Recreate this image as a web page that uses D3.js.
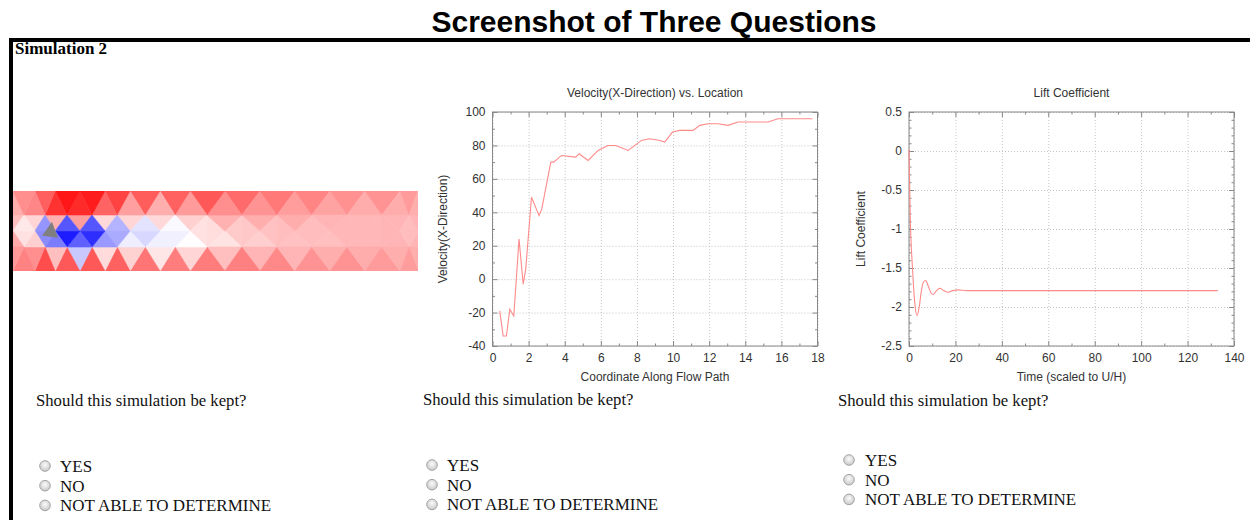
<!DOCTYPE html>
<html>
<head>
<meta charset="utf-8">
<script src="https://cdn.jsdelivr.net/npm/d3@7"></script>
<style>
  body { margin: 0; background: #fff; }
  svg { display: block; }
  .plot text { font-family: "Liberation Sans", Arial, sans-serif; fill: #333; }
  .serif { font-family: "Liberation Serif", "Times New Roman", serif; fill: #111; }
</style>
</head>
<body>
<div id="page"></div>
<script>
const pageTitle = "Screenshot of Three Questions"
const simName = "Simulation 2"
const question = "Should this simulation be kept?"
const answers = ["YES", "NO", "NOT ABLE TO DETERMINE"]

// velocity field snapshot: mesh rows (channel units), value -1 blue .. 0 white .. 1 red
const colsA = [0, 0.54, 1.04, 1.65, 2.27, 2.89, 3.63, 4.37, 5.23, 6.1, 6.96, 7.83, 8.69, 9.56, 10]
const colsB = [0, 0.27, 0.79, 1.33, 1.95, 2.57, 3.26, 4.0, 4.79, 5.65, 6.52, 7.38, 8.25, 9.11, 9.78, 10]
const meshRowY = [0, 0.6, 1.0, 1.4, 2]
const meshRowCols = [colsA, colsB, colsA, colsB, colsA]
const meshVal = [
  [0.45, 0.6, 0.9, 1.0, 0.95, 0.8, 0.7, 0.75, 0.7, 0.6, 0.55, 0.5, 0.45, 0.45, 0.4],
  [0.3, 0.25, 0.5, 0.85, 0.6, 0.3, 0.25, 0.2, 0.35, 0.4, 0.35, 0.35, 0.3, 0.3, 0.3, 0.3],
  [0.2, -0.5, -1.0, -0.95, -0.9, -0.3, -0.15, -0.05, 0.05, 0.1, 0.2, 0.2, 0.2, 0.25, 0.25],
  [0.35, 0.4, 0.3, -0.6, -0.4, 0.1, -0.05, 0.0, 0.1, 0.2, 0.25, 0.25, 0.3, 0.3, 0.3, 0.3],
  [0.45, 0.75, 0.9, 0.9, 0.85, 0.7, 0.65, 0.6, 0.6, 0.55, 0.5, 0.45, 0.45, 0.4, 0.4]
]
const obstacle = [[0.72, 1.12], [0.96, 0.77], [1.11, 1.17]]

// Velocity(X-Direction) vs. Location
const velPos = [0.40, 0.59, 0.77, 0.96, 1.18, 1.47, 1.70, 1.84, 2.16, 2.58, 2.73, 3.23, 3.39, 3.82, 4.61, 4.80, 5.29, 5.85, 6.40, 6.83, 7.51, 8.25, 8.71, 9.27, 9.54, 9.97, 10.37, 11.11, 11.48, 11.94, 12.49, 13.05, 13.60, 14.62, 15.26, 15.81, 16.28, 16.83, 17.20, 17.72]
const velVal = [-19, -34, -34, -18, -22, 24, -3, 6, 49, 38, 42, 70, 70, 74, 73, 75, 71, 77, 80, 80, 77, 83, 84, 83, 82, 88, 89, 89, 92, 93, 93, 92, 94, 94, 94, 96, 96, 96, 96, 96]
const velXTicks = [0, 2, 4, 6, 8, 10, 12, 14, 16, 18]
const velXMinor = [1, 3, 5, 7, 9, 11, 13, 15, 17]
const velYTicks = [-40, -20, 0, 20, 40, 60, 80, 100]
const velYMinor = [-30, -10, 10, 30, 50, 70, 90]

// Lift Coefficient
const liftT = [0, 0.5, 1.5, 2.5, 3.5, 4.4, 5.3, 6.2, 7.2, 8.4, 9.5, 10.4, 11.6, 13.3, 15.0, 16.9, 19.0, 21.0, 25, 133]
const liftC = [0.02, -0.8, -1.5, -1.95, -2.11, -2.0, -1.8, -1.68, -1.66, -1.74, -1.82, -1.84, -1.80, -1.76, -1.79, -1.81, -1.79, -1.78, -1.79, -1.79]
const liftXTicks = [0, 20, 40, 60, 80, 100, 120, 140]
const liftXMinor = [10, 30, 50, 70, 90, 110, 130]
const liftYTicks = [-2.5, -2, -1.5, -1, -0.5, 0, 0.5]
const liftYMinor = [-2.4, -2.3, -2.2, -2.1, -1.9, -1.8, -1.7, -1.6, -1.4, -1.3, -1.2, -1.1, -0.9, -0.8, -0.7, -0.6, -0.4, -0.3, -0.2, -0.1, 0.1, 0.2, 0.3, 0.4]

const svg = d3.select("#page").append("svg")
  .attr("width", 1250)
  .attr("height", 520)

svg.append("text")
  .attr("x", 654).attr("y", 32)
  .attr("text-anchor", "middle")
  .style("font", "bold 30px 'Liberation Sans', Arial, sans-serif")
  .text(pageTitle)

// frame of the question block
svg.append("rect").attr("x", 9).attr("y", 38).attr("width", 1241).attr("height", 4).attr("fill", "#000")
svg.append("rect").attr("x", 9).attr("y", 38).attr("width", 4).attr("height", 482).attr("fill", "#000")

svg.append("text")
  .attr("class", "serif")
  .attr("x", 15).attr("y", 54)
  .style("font-weight", "bold").style("font-size", "17px")
  .style("fill", "#000")
  .text(simName)

// --- velocity field mesh
const mx = d3.scaleLinear().domain([0, 10]).range([13, 418])
const my = d3.scaleLinear().domain([0, 2]).range([191, 271])
const fieldColor = d3.scaleLinear().domain([-1, 0, 1]).range(["#0000ff", "#ffffff", "#ff0000"])

const nodes = meshRowCols.flatMap((cols, r) => cols.map((c, i) => ({
  px: mx(c), py: my(meshRowY[r]), v: meshVal[r][i]
})))
const delaunay = d3.Delaunay.from(nodes, d => d.px, d => d.py)
const tris = d3.range(delaunay.triangles.length / 3).map(i =>
  [0, 1, 2].map(k => nodes[delaunay.triangles[i * 3 + k]]))
const triColor = t => fieldColor((d3.median(t, n => n.v) + d3.mean(t, n => n.v)) / 2)

const defs = svg.append("defs")
defs.append("filter").attr("id", "soft")
  .append("feGaussianBlur").attr("stdDeviation", 0.7)
defs.append("clipPath").attr("id", "strip")
  .append("rect").attr("x", 13).attr("y", 191).attr("width", 405).attr("height", 80)

const field = svg.append("g").attr("clip-path", "url(#strip)")
  .append("g").attr("filter", "url(#soft)")
field.selectAll("path")
  .data(tris)
  .join("path")
    .attr("d", t => "M" + t.map(n => `${n.px},${n.py}`).join("L") + "Z")
    .attr("fill", triColor)
    .attr("stroke", triColor)
    .attr("stroke-width", 0.6)
field.append("path")
  .attr("d", "M" + obstacle.map(p => [mx(p[0]), my(p[1])].join(",")).join("L") + "Z")
  .attr("fill", "#808080")

// --- gnuplot-style line charts
const plotTop = 112, plotBottom = 346, plotW = 325

function drawPlot(cfg) {
  const g = svg.append("g").attr("class", "plot")
  const x = d3.scaleLinear().domain(cfg.xDomain).range([cfg.left, cfg.left + plotW])
  const y = d3.scaleLinear().domain(cfg.yDomain).range([plotBottom, plotTop])
  const fmt = d => `${d}`
  const strip = s => s.select(".domain").remove()

  // grid
  g.append("g").attr("transform", `translate(0,${plotBottom})`)
    .call(d3.axisBottom(x).tickValues(cfg.xTicks).tickSize(-(plotBottom - plotTop)).tickFormat(""))
    .call(strip)
    .selectAll("line").attr("stroke", "#c4c4c4").attr("stroke-dasharray", "1,2")
  g.append("g").attr("transform", `translate(${cfg.left},0)`)
    .call(d3.axisLeft(y).tickValues(cfg.yTicks).tickSize(-plotW).tickFormat(""))
    .call(strip)
    .selectAll("line").attr("stroke", "#c4c4c4").attr("stroke-dasharray", "1,2")

  // inward ticks on all four sides
  const sides = [
    [d3.axisBottom(x), cfg.xTicks, cfg.xMinor, `translate(0,${plotBottom})`, true],
    [d3.axisTop(x), cfg.xTicks, cfg.xMinor, `translate(0,${plotTop})`, false],
    [d3.axisLeft(y), cfg.yTicks, cfg.yMinor, `translate(${cfg.left},0)`, true],
    [d3.axisRight(y), cfg.yTicks, cfg.yMinor, `translate(${cfg.left + plotW},0)`, false]
  ]
  sides.forEach(([ax, major, minor, tr, labels]) => {
    g.append("g").attr("transform", tr)
      .call(ax.tickValues(minor).tickSize(-2.5).tickFormat(""))
      .call(strip)
      .selectAll("line").attr("stroke", "#888")
    g.append("g").attr("transform", tr)
      .call(ax.tickValues(major).tickSize(-5).tickPadding(7).tickFormat(labels ? fmt : ""))
      .call(strip)
      .call(s => s.selectAll("line").attr("stroke", "#888"))
      .call(s => s.selectAll("text").attr("fill", "#333").style("font-size", "12px"))
  })

  g.append("rect")
    .attr("x", cfg.left).attr("y", plotTop)
    .attr("width", plotW).attr("height", plotBottom - plotTop)
    .attr("fill", "none").attr("stroke", "#888")

  g.append("path")
    .datum(d3.zip(cfg.xs, cfg.ys))
    .attr("fill", "none")
    .attr("stroke", "#ff8a8a")
    .attr("stroke-width", 1.1)
    .attr("d", d3.line().x(d => x(d[0])).y(d => y(d[1])).curve(cfg.curve))

  const cx = cfg.left + plotW / 2
  g.append("text").attr("x", cx).attr("y", 97).attr("text-anchor", "middle")
    .style("font-size", "12px").text(cfg.title)
  g.append("text").attr("x", cx).attr("y", 381).attr("text-anchor", "middle")
    .style("font-size", "12px").text(cfg.xLabel)
  g.append("text")
    .attr("transform", `translate(${cfg.yLabelX},${(plotTop + plotBottom) / 2}) rotate(-90)`)
    .attr("text-anchor", "middle").attr("dy", "0.35em")
    .style("font-size", "12px").text(cfg.yLabel)
}

drawPlot({
  left: 492.5, xDomain: [0, 18], yDomain: [-40, 100],
  xTicks: velXTicks, xMinor: velXMinor, yTicks: velYTicks, yMinor: velYMinor,
  xs: velPos, ys: velVal, curve: d3.curveLinear,
  title: "Velocity(X-Direction) vs. Location",
  xLabel: "Coordinate Along Flow Path",
  yLabel: "Velocity(X-Direction)", yLabelX: 443
})

drawPlot({
  left: 909, xDomain: [0, 140], yDomain: [-2.5, 0.5],
  xTicks: liftXTicks, xMinor: liftXMinor, yTicks: liftYTicks, yMinor: liftYMinor,
  xs: liftT, ys: liftC, curve: d3.curveMonotoneX,
  title: "Lift Coefficient",
  xLabel: "Time (scaled to U/H)",
  yLabel: "Lift Coefficient", yLabelX: 861
})

// --- questions with radio options
const grad = defs.append("radialGradient").attr("id", "radio").attr("cx", "50%").attr("cy", "40%").attr("r", "60%")
grad.append("stop").attr("offset", "0%").attr("stop-color", "#fbfbfb")
grad.append("stop").attr("offset", "100%").attr("stop-color", "#c8c8c8")

const questionCols = [
  { qx: 36, qy: 406, rx: 45, lx: 60, ry: 466 },
  { qx: 423, qy: 405, rx: 432, lx: 447, ry: 465 },
  { qx: 838, qy: 406, rx: 849, lx: 865, ry: 460 }
]

questionCols.forEach(col => {
  const q = svg.append("g").attr("class", "serif")
  q.append("text").attr("x", col.qx).attr("y", col.qy)
    .style("font-size", "16.7px").text(question)
  const opt = q.selectAll("g.opt")
    .data(answers)
    .join("g")
      .attr("class", "opt")
      .attr("transform", (d, i) => `translate(0,${col.ry + i * 19.7})`)
  opt.append("circle")
    .attr("cx", col.rx).attr("cy", 0).attr("r", 5.3)
    .attr("fill", "url(#radio)").attr("stroke", "#a4a4a4")
  opt.append("text")
    .attr("x", col.lx).attr("y", 6)
    .style("font-size", "17px")
    .text(d => d)
})
</script>
</body>
</html>
